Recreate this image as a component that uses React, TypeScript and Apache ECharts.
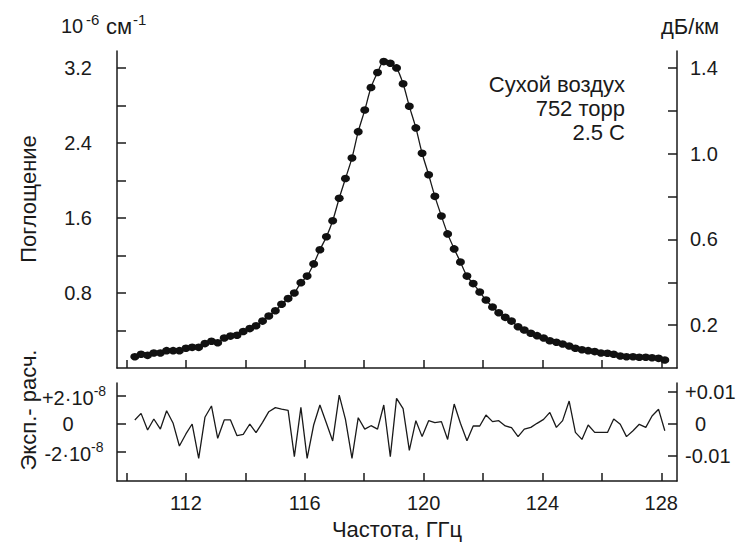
import React, { useEffect, useRef } from "react";
import * as echarts from "echarts";

// Frequency, GHz
const freqs = [
  110.28, 110.49, 110.71, 110.92, 111.14, 111.35, 111.57, 111.78, 112.0, 112.21,
  112.43, 112.64, 112.86, 113.07, 113.29, 113.5, 113.72, 113.93, 114.15, 114.36,
  114.58, 114.79, 115.01, 115.22, 115.44, 115.65, 115.87, 116.08, 116.3, 116.51,
  116.73, 116.94, 117.16, 117.37, 117.59, 117.8, 118.02, 118.23, 118.45, 118.66,
  118.88, 119.09, 119.31, 119.52, 119.74, 119.95, 120.17, 120.38, 120.6, 120.81,
  121.03, 121.24, 121.46, 121.67, 121.89, 122.1, 122.32, 122.53, 122.75, 122.96,
  123.18, 123.39, 123.61, 123.82, 124.04, 124.25, 124.47, 124.68, 124.9, 125.11,
  125.33, 125.54, 125.76, 125.97, 126.19, 126.4, 126.62, 126.83, 127.05, 127.26,
  127.48, 127.69, 127.91, 128.12,
];

// Absorption, 10^-6 cm^-1
const absorption = [
  0.12, 0.146, 0.135, 0.16, 0.16, 0.185, 0.185, 0.185, 0.21, 0.22,
  0.22, 0.26, 0.285, 0.27, 0.32, 0.34, 0.35, 0.39, 0.42, 0.45,
  0.5, 0.555, 0.61, 0.68, 0.74, 0.8, 0.91, 0.98, 1.11, 1.26,
  1.4, 1.57, 1.81, 2.02, 2.24, 2.52, 2.75, 2.99, 3.15, 3.267,
  3.25, 3.2, 3.03, 2.79, 2.56, 2.29, 2.06, 1.83, 1.62, 1.43,
  1.27, 1.13, 0.98, 0.9, 0.81, 0.725, 0.65, 0.59, 0.54, 0.5,
  0.44, 0.405, 0.37, 0.345, 0.32, 0.29, 0.275, 0.256, 0.235, 0.21,
  0.195, 0.185, 0.175, 0.16, 0.157, 0.146, 0.128, 0.12, 0.12, 0.114,
  0.114, 0.11, 0.103, 0.085,
];

// Experiment - calculation, 10^-8 cm^-1
const residual = [
  0.29, 0.76, -0.43, 0.36, -0.36, 0.95, 0.05, -1.57, -0.71, 0.0,
  -2.45, 0.48, 1.29, -1.02, 0.29, 0.29, -0.83, -0.74, 0.0, -0.62,
  0.12, 0.88, 1.17, 1.07, 0.98, -2.33, 1.19, -2.45, -0.07, 1.36,
  0.05, -1.21, 2.07, 0.33, -2.45, 0.45, -0.36, -0.12, -0.36, 1.36,
  -2.33, 1.83, 1.1, -1.88, 0.24, -0.9, 0.24, 0.1, 0.17, -1.1,
  1.43, 0.05, -1.19, -0.14, -0.14, 0.64, 0.17, 0.24, -0.14, -0.26,
  -0.9, -0.36, -0.24, 0.05, 0.33, 0.83, -0.24, 0.24, 1.64, -0.6,
  -1.1, -0.07, -0.6, -0.6, -0.6, 0.36, -0.02, -0.9, -0.48, -0.02,
  -0.24, 0.57, 1.05, -0.48,
];

const xTicks = [110, 112, 114, 116, 118, 120, 122, 124, 126, 128];
const xLabels = [112, 116, 120, 124, 128];
const absTicks = [0.4, 0.8, 1.2, 1.6, 2.0, 2.4, 2.8, 3.2];
const absLabels = [0.8, 1.6, 2.4, 3.2];
const dbTicks = [0.2, 0.4, 0.6, 0.8, 1.0, 1.2, 1.4];
const dbLabels = [0.2, 0.6, 1.0, 1.4];
const resTicks = [-2, 0, 2];
const resDbTicks = [-0.01, 0, 0.01];
const notes = ["Сухой воздух", "752 торр", "2.5 С"];

const FONT = "'Liberation Sans', Arial, Helvetica, sans-serif";
const C = "#1a1a1a";
const FS = 20;
const FT = 22;

export default function App() {
  const ref = useRef<HTMLDivElement>(null);
  useEffect(() => {
    const chart = echarts.init(ref.current!, null, { renderer: "svg" });
    const axisLine = { show: true, onZero: false, lineStyle: { color: C, width: 1.5 } };
    const tick = (vals: number[], len = 8) => ({
      show: true,
      inside: true,
      length: len,
      customValues: vals,
      lineStyle: { color: C, width: 1.5 },
    });
    const lbl = { color: C, fontSize: FS, fontFamily: FONT };
    const xMin = 109.68;
    const xMax = 128.53;
    const resMin = -4.07;
    const resMax = 2.93;
    const conv = 0.004375; // 10^-8 cm^-1 -> dB/km

    const option: any = {
      animation: false,
      backgroundColor: "#ffffff",
      grid: [
        { left: 117, right: 63, top: 51, height: 317 },
        { left: 117, right: 63, top: 383, height: 98 },
      ],
      xAxis: [
        {
          type: "value", gridIndex: 0, min: xMin, max: xMax, position: "bottom",
          axisLine, axisTick: tick(xTicks), axisLabel: { show: false }, splitLine: { show: false },
        },
        {
          type: "value", gridIndex: 1, min: xMin, max: xMax, position: "bottom",
          axisLine, axisTick: tick(xTicks),
          axisLabel: { ...lbl, customValues: xLabels, margin: 12, formatter: (v: number) => String(v) },
          splitLine: { show: false },
          name: "Частота, ГГц", nameLocation: "middle", nameGap: 37,
          nameTextStyle: { color: C, fontSize: FT, fontFamily: FONT },
        },
      ],
      yAxis: [
        {
          type: "value", gridIndex: 0, position: "left", min: 0, max: 3.38,
          axisLine, axisTick: tick(absTicks, 9),
          axisLabel: { ...lbl, customValues: absLabels, margin: 25, formatter: (v: number) => v.toFixed(1) },
          splitLine: { show: false },
        },
        {
          type: "value", gridIndex: 0, position: "right", min: 0, max: 1.479,
          axisLine, axisTick: tick(dbTicks, 9),
          axisLabel: { ...lbl, customValues: dbLabels, margin: 13, formatter: (v: number) => v.toFixed(1) },
          splitLine: { show: false },
        },
        {
          type: "value", gridIndex: 1, position: "left", min: resMin, max: resMax,
          axisLine, axisTick: tick(resTicks, 9),
          axisLabel: {
            ...lbl, customValues: resTicks, margin: 43, align: "center",
            formatter: (v: number) => (v === 0 ? "{z|0}" : v > 0 ? "{m|+2·10}{s|-8}" : "{m|-2·10}{s|-8}"),
            rich: {
              m: { fontSize: FS, fontFamily: FONT, color: C, lineHeight: 24, padding: [8, 0, 0, 0], verticalAlign: "bottom" },
              s: { fontSize: 14, fontFamily: FONT, color: C, lineHeight: 14, verticalAlign: "top" },
              z: { fontSize: FS, fontFamily: FONT, color: C, padding: [0, 12, 0, 0] },
            },
          },
          splitLine: { show: false },
        },
        {
          type: "value", gridIndex: 1, position: "right", min: resMin * conv, max: resMax * conv,
          axisLine, axisTick: tick(resDbTicks, 9),
          axisLabel: {
            ...lbl, customValues: resDbTicks, margin: 8, align: "left",
            formatter: (v: number) => (v === 0 ? "{z|0}" : v > 0 ? "+0.01" : "-0.01"),
            rich: { z: { fontSize: FS, fontFamily: FONT, color: C, padding: [0, 0, 0, 10] } },
          },
          splitLine: { show: false },
        },
      ],
      series: [
        {
          type: "line", xAxisIndex: 0, yAxisIndex: 0,
          data: freqs.map((f, i) => [f, absorption[i]]),
          smooth: 0.3,
          symbol: "circle", symbolSize: [9, 7.5], showAllSymbol: true,
          lineStyle: { color: C, width: 1.3 },
          itemStyle: { color: "#111" },
        },
        {
          type: "line", xAxisIndex: 1, yAxisIndex: 2,
          data: freqs.map((f, i) => [f, residual[i]]),
          symbol: "none",
          lineStyle: { color: C, width: 1.3 },
        },
      ],
      graphic: [
        { type: "text", x: 28, y: 199, rotation: Math.PI / 2, style: { text: "Поглощение", fill: C, fontSize: FT, fontFamily: FONT, align: "center", verticalAlign: "middle" } },
        { type: "text", x: 28, y: 410, rotation: Math.PI / 2, style: { text: "Эксп.- расч.", fill: C, fontSize: FT, fontFamily: FONT, align: "center", verticalAlign: "middle" } },
        { type: "text", x: 61, y: 26, style: { text: "10", fill: C, fontSize: FS, fontFamily: FONT, align: "left", verticalAlign: "middle" } },
        { type: "text", x: 86, y: 19, style: { text: "-6", fill: C, fontSize: 15, fontFamily: FONT, align: "left", verticalAlign: "middle" } },
        { type: "text", x: 106, y: 26, style: { text: "см", fill: C, fontSize: FT, fontFamily: FONT, align: "left", verticalAlign: "middle" } },
        { type: "text", x: 133, y: 19, style: { text: "-1", fill: C, fontSize: 15, fontFamily: FONT, align: "left", verticalAlign: "middle" } },
        { type: "text", x: 661, y: 26, style: { text: "дБ/км", fill: C, fontSize: FT, fontFamily: FONT, align: "left", verticalAlign: "middle" } },
        ...notes.map((t, i) => ({
          type: "text", x: 625, y: 84 + i * 24,
          style: { text: t, fill: C, fontSize: FT, fontFamily: FONT, align: "right", verticalAlign: "middle" },
        })),
      ],
    };
    chart.setOption(option);
    return () => chart.dispose();
  }, []);
  return <div ref={ref} style={{ position: "absolute", left: 0, top: 0, width: 740, height: 547 }} />;
}
